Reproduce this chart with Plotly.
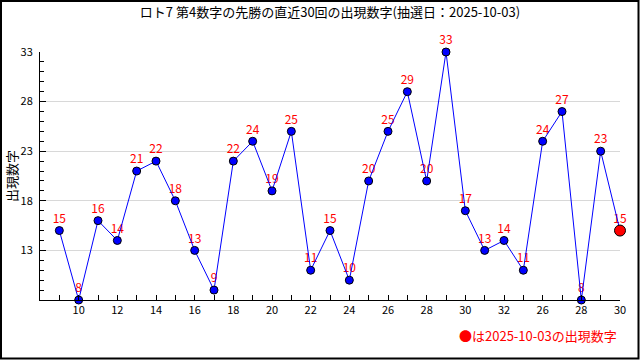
import plotly.graph_objects as go

title_text = "ロト7 第4数字の先勝の直近30回の出現数字(抽選日：2025-10-03)"
draw_index = list(range(1, 31))
values = [15, 8, 16, 14, 21, 22, 18, 13, 9, 22, 24, 19, 25, 11, 15,
          10, 20, 25, 29, 20, 33, 17, 13, 14, 11, 24, 27, 8, 23, 15]
tick_positions = [2, 4, 6, 8, 10, 12, 14, 16, 18, 20, 22, 24, 26, 28, 30]
tick_labels = ["10", "12", "14", "16", "18", "20", "22", "24", "26", "28",
               "30", "32", "26", "28", "30"]
y_ticks = [13, 18, 23, 28, 33]

W, H = 640, 360
ml, mr, mt, mb = 40, 20, 52, 60
pw, ph = W - ml - mr, H - mt - mb
FONT = "Noto Sans CJK JP, Noto Sans, DejaVu Sans, sans-serif"

def px_x(px):
    return (px - ml) / pw

def px_y(py):
    return (H - mb - py) / ph

fig = go.Figure()

# labels (drawn first so markers overlap them)
fig.add_trace(go.Scatter(
    x=draw_index, y=values, mode="markers+text", text=[str(v) for v in values],
    marker=dict(size=6, color="rgba(0,0,0,0)"),
    textposition="top center", textfont=dict(color="#ff0000", size=12, family=FONT),
    hoverinfo="skip", showlegend=False, cliponaxis=False))

colors = ["#0000ff"] * (len(values) - 1) + ["#ff0000"]
sizes = [8] * (len(values) - 1) + [11]
fig.add_trace(go.Scatter(
    x=draw_index, y=values, mode="lines+markers",
    line=dict(color="#0000ff", width=1),
    marker=dict(color=colors, size=sizes, opacity=1,
                line=dict(color="#000000", width=1)),
    showlegend=False, cliponaxis=False))

fig.update_layout(
    width=W, height=H,
    margin=dict(l=ml, r=mr, t=mt, b=mb),
    paper_bgcolor="white", plot_bgcolor="white",
    font=dict(family=FONT, size=11, color="#000000"),
    title=dict(text=title_text, x=0.5, xref="paper", xanchor="center",
               y=1 - 12 / H, yanchor="middle", yref="container",
               font=dict(size=13, color="#000000", family=FONT)),
    xaxis=dict(range=[0, 30], showgrid=False, zeroline=False,
               showline=True, linecolor="#000000", linewidth=1,
               tickmode="array", tickvals=tick_positions, ticktext=tick_labels,
               ticks="inside", ticklen=5, tickcolor="#000000",
               minor=dict(tickmode="array", tickvals=draw_index, ticks="inside",
                          ticklen=5, tickcolor="#000000"),
               tickfont=dict(size=11, family=FONT)),
    yaxis=dict(range=[8, 33], showgrid=True, gridcolor="#d8d8d8", gridwidth=1,
               zeroline=False, showline=True, linecolor="#000000", linewidth=1,
               tickmode="array", tickvals=y_ticks,
               ticks="inside", ticklen=6, tickcolor="#000000",
               ticklabelstandoff=4,
               minor=dict(tickmode="array", tickvals=list(range(9, 33)),
                          ticks="inside", ticklen=4, tickcolor="#000000",
                          showgrid=False),
               tickfont=dict(size=11, family=FONT)),
    annotations=[
        dict(text="出現数字", xref="paper", yref="paper", x=px_x(11), y=px_y(176),
             textangle=-90, showarrow=False, xanchor="center", yanchor="middle",
             font=dict(size=13, color="#000000", family=FONT)),
        dict(text="●は2025-10-03の出現数字", xref="paper", yref="paper",
             x=px_x(619), y=px_y(335), showarrow=False, xanchor="right",
             yanchor="middle", font=dict(size=13, color="#ff0000", family=FONT)),
    ],
    shapes=[dict(type="rect", xref="paper", yref="paper",
                 x0=px_x(1), x1=px_x(638.5), y0=px_y(1), y1=px_y(358.5),
                 line=dict(color="#000000", width=2), layer="above")],
)

fig.write_html("out.html", config={"displayModeBar": False},
               post_script="document.body.style.margin='0';document.body.style.overflow='hidden';")
